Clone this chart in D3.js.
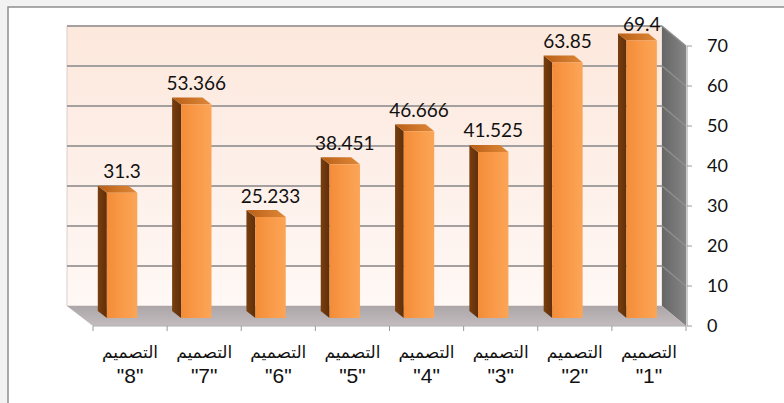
<!DOCTYPE html>
<html><head><meta charset="utf-8">
<script src="https://cdn.jsdelivr.net/npm/d3@7"></script>
<style>html,body{margin:0;padding:0;background:#fff;overflow:hidden}</style>
</head><body>
<svg id="c" width="784" height="403"></svg>
<script>
// ---- data ----
const categories = ['التصميم "1"','التصميم "2"','التصميم "3"','التصميم "4"','التصميم "5"','التصميم "6"','التصميم "7"','التصميم "8"'];
const values = [69.4, 63.85, 41.525, 46.666, 38.451, 25.233, 53.366, 31.3];
const yTicks = [0, 10, 20, 30, 40, 50, 60, 70];

const svg = d3.select("#c");
const W = 784, H = 403;

// scales (x reversed: "8" on the left, "1" on the right)
const x = d3.scaleBand().domain(categories.slice().reverse()).range([0, 1]);
const y = d3.scaleLinear().domain([0, 70]).range([0, 280]);

// simple 3D projection: f = horizontal fraction, t = depth (0 front, 1 back), v = value
const FL = 93, FR = 686, BL = 67, BR = 662, FY = 326, DY = 20;
function P(f, t, v) {
  const fx = FL + f * (FR - FL), bx = BL + f * (BR - BL);
  return [fx + (bx - fx) * t, FY - DY * t - y(v)];
}
const poly = pts => pts.map(p => p.join(",")).join(" ");

const defs = svg.append("defs");
function lin(id, x1, y1, x2, y2, stops) {
  const g = defs.append("linearGradient").attr("id", id)
    .attr("x1", x1).attr("y1", y1).attr("x2", x2).attr("y2", y2);
  stops.forEach(s => g.append("stop").attr("offset", s[0]).attr("stop-color", s[1]));
}
lin("wall", 0, 0, 0, 1, [[0, "#fde8dc"], [0.5, "#fdefe8"], [1, "#fff8f5"]]);
lin("side", 0, 0, 1, 0, [[0, "#666666"], [1, "#858585"]]);
lin("floor", 0, 0, 0, 1, [[0, "#aca6a8"], [1, "#c2bcbf"]]);
lin("front", 0, 0, 1, 0, [[0, "#f38c38"], [0.5, "#f99a48"], [1, "#fba557"]]);
lin("sideBar", 0, 0, 1, 0, [[0, "#7a3e0e"], [1, "#5e2f0a"]]);
lin("topBar", 0, 0, 1, 0, [[0, "#b85f17"], [1, "#e08838"]]);

// page background + frame
svg.append("rect").attr("width", W).attr("height", H).attr("fill", "#f2f2f2");
svg.append("rect").attr("x", 8).attr("y", 7).attr("width", W).attr("height", H).attr("fill", "#fff")
  .attr("stroke", "#8e8e8e").attr("stroke-width", 1.5);

// back wall
svg.append("polygon").attr("points", poly([P(0,1,0), P(0,1,70), P(1,1,70), P(1,1,0)]))
  .attr("fill", "url(#wall)").attr("stroke", "#d9cfcb").attr("stroke-width", 1);
// side wall
svg.append("polygon").attr("points", poly([P(1,1,0), P(1,1,70), P(1,0,70), P(1,0,0)]))
  .attr("fill", "url(#side)");
// floor
svg.append("polygon").attr("points", poly([P(0,1,0), P(1,1,0), P(1,0,0), P(0,0,0)]))
  .attr("fill", "url(#floor)");

// gridlines
yTicks.filter(v => v > 0).forEach(v => {
  svg.append("line").attr("x1", P(0,1,v)[0]).attr("y1", P(0,1,v)[1])
    .attr("x2", P(1,1,v)[0]).attr("y2", P(1,1,v)[1])
    .attr("stroke", "#a4a0a0").attr("stroke-width", 2);
  svg.append("line").attr("x1", P(1,1,v)[0]).attr("y1", P(1,1,v)[1])
    .attr("x2", P(1,0,v)[0]).attr("y2", P(1,0,v)[1])
    .attr("stroke", "#8f8f8f").attr("stroke-width", 1.5);
});

// bars
const T0 = 0.4, T1 = 0.75, WF = 0.41;
const bars = categories.map((c, i) => {
  const bw = x.bandwidth();
  const cf = x(c) + bw / 2 + 0.004;
  return { c, v: values[i], fl: cf - bw * WF / 2, fr: cf + bw * WF / 2 };
});
const g = svg.append("g");
bars.forEach(b => {
  g.append("polygon").attr("points", poly([P(b.fl,T0,0), P(b.fl,T0,b.v), P(b.fl,T1,b.v), P(b.fl,T1,0)]))
    .attr("fill", "url(#sideBar)");
  g.append("polygon").attr("points", poly([P(b.fl,T0,b.v), P(b.fr,T0,b.v), P(b.fr,T1,b.v), P(b.fl,T1,b.v)]))
    .attr("fill", "url(#topBar)");
  g.append("polygon").attr("points", poly([P(b.fl,T0,0), P(b.fr,T0,0), P(b.fr,T0,b.v), P(b.fl,T0,b.v)]))
    .attr("fill", "url(#front)");
  const top = P((b.fl + b.fr) / 2, T0, b.v);
  g.append("text").attr("x", top[0]).attr("y", Math.max(top[1] - 14.5, 31))
    .attr("text-anchor", "middle").attr("font-family", "Lato, sans-serif").attr("font-size", 19)
    .attr("fill", "#111").text(String(b.v));
});

// y axis (right)
const ax0 = P(1,0,0), ax1 = P(1,0,70);
svg.append("line").attr("x1", ax0[0] + 1).attr("y1", ax0[1]).attr("x2", ax1[0] + 1).attr("y2", ax1[1])
  .attr("stroke", "#9a9a9a").attr("stroke-width", 1);
yTicks.forEach(v => {
  const p = P(1,0,v);
  svg.append("line").attr("x1", p[0] + 1).attr("x2", p[0] + 6).attr("y1", p[1]).attr("y2", p[1])
    .attr("stroke", "#9a9a9a").attr("stroke-width", 1);
  svg.append("text").attr("x", 707).attr("y", p[1]).attr("dy", "0.36em")
    .attr("font-family", "Lato, sans-serif").attr("font-size", 18).attr("fill", "#111").text(v);
});

// x axis (front edge)
svg.append("line").attr("x1", P(0,0,0)[0]).attr("y1", FY).attr("x2", P(1,0,0)[0]).attr("y2", FY)
  .attr("stroke", "#b0b0b0").attr("stroke-width", 1);
d3.range(categories.length + 1).forEach(i => {
  const p = P(i / categories.length, 0, 0);
  svg.append("line").attr("x1", p[0]).attr("x2", p[0]).attr("y1", FY).attr("y2", FY + 5)
    .attr("stroke", "#9a9a9a").attr("stroke-width", 1);
});
categories.forEach(c => {
  const p = P(x(c) + x.bandwidth() / 2, 0, 0);
  const k = c.lastIndexOf(" ");
  svg.append("text").attr("x", p[0]).attr("y", 358).attr("text-anchor", "middle")
    .attr("font-family", "'DejaVu Sans', sans-serif").attr("font-size", 17).attr("fill", "#111")
    .attr("direction", "rtl").text(c.slice(0, k));
  svg.append("text").attr("x", p[0]).attr("y", 383).attr("text-anchor", "middle")
    .attr("font-family", "'Liberation Sans', Arial, sans-serif").attr("font-size", 21).attr("fill", "#111")
    .text(c.slice(k + 1));
});
</script>
</body></html>
